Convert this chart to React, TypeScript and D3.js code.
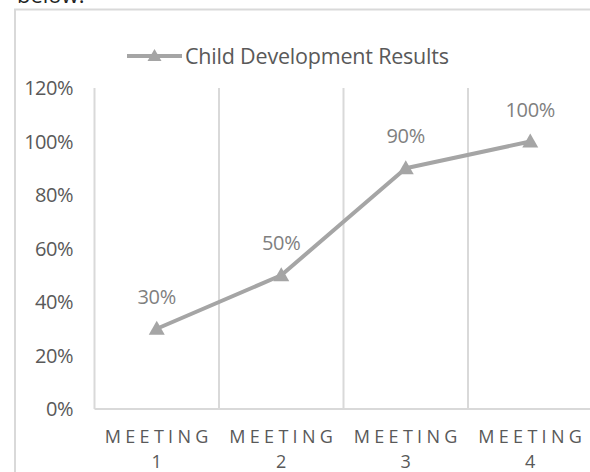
import React from "react";
import * as d3 from "d3";

const categories = ["MEETING 1", "MEETING 2", "MEETING 3", "MEETING 4"];
const values = [0.3, 0.5, 0.9, 1.0];
const yTicks = [0, 0.2, 0.4, 0.6, 0.8, 1.0, 1.2];
const seriesName = "Child Development Results";

export default function App() {
  const W = 590, H = 472;
  const left = 94.5, band = 124.5;
  const x = d3.scaleBand<string>().domain(categories).range([left, left + band * categories.length]).padding(0);
  const y = d3.scaleLinear().domain([0, 1.2]).range([409, 88]);
  const line = d3.line<number>().x((_, i) => (x(categories[i]) as number) + x.bandwidth() / 2).y((d) => y(d));
  const fmt = d3.format(".0%");
  const font = "'Open Sans', 'Noto Sans', sans-serif";
  const tri = (cx: number, cy: number, w = 16, h = 14) =>
    `M${cx},${cy - h / 2 - 1}L${cx + w / 2},${cy + h / 2 - 1}L${cx - w / 2},${cy + h / 2 - 1}Z`;
  return (
    <svg width={W} height={H} style={{ position: "absolute", left: 0, top: 0 }} fontFamily={font}>
      <rect x={0} y={0} width={W} height={H} fill="#fff" />
      <text x={17} y={3} fontSize={22} fill="#222">below:</text>
      <rect x={15} y={9.5} width={W + 20} height={H + 20} fill="none" stroke="#d9d9d9" strokeWidth={2} />
      {/* legend */}
      <line x1={127} x2={182} y1={56} y2={56} stroke="#a5a5a5" strokeWidth={4} />
      <path d={tri(154.5, 56, 14, 12)} fill="#a5a5a5" />
      <text x={185} y={56} dy="0.35em" fontSize={21.5} fill="#595959" letterSpacing={-0.2}>{seriesName}</text>
      {/* y labels */}
      {yTicks.map((t) => (
        <text key={t} x={73} y={y(t)} dy="0.35em" textAnchor="end" fontSize={20} fill="#595959" letterSpacing={-0.5}>{fmt(t)}</text>
      ))}
      {/* category separators */}
      {categories.map((c) => (
        <line key={c} x1={x(c) as number} x2={x(c) as number} y1={y(1.2)} y2={y(0)} stroke="#d9d9d9" strokeWidth={2} />
      ))}
      <line x1={left} x2={W} y1={y(0)} y2={y(0)} stroke="#d9d9d9" strokeWidth={2} />
      {/* category labels */}
      {categories.map((c) => {
        const [w1, w2] = c.split(" ");
        const cx = (x(c) as number) + x.bandwidth() / 2;
        return (
          <g key={c}>
            <text x={cx + 2} y={437} dy="0.35em" textAnchor="middle" fontSize={18} fill="#595959" letterSpacing={4.3}>{w1}</text>
            <text x={cx} y={462} dy="0.35em" textAnchor="middle" fontSize={18} fill="#595959">{w2}</text>
          </g>
        );
      })}
      {/* series */}
      <path d={line(values) || ""} fill="none" stroke="#a5a5a5" strokeWidth={4} strokeLinejoin="round" />
      {values.map((v, i) => {
        const cx = (x(categories[i]) as number) + x.bandwidth() / 2;
        return (
          <g key={i}>
            <path d={tri(cx, y(v))} fill="#a5a5a5" />
            <text x={cx} y={y(v) - 32} dy="0.35em" textAnchor="middle" fontSize={20} fill="#7f7f7f" letterSpacing={-0.3}>{fmt(v)}</text>
          </g>
        );
      })}
    </svg>
  );
}
